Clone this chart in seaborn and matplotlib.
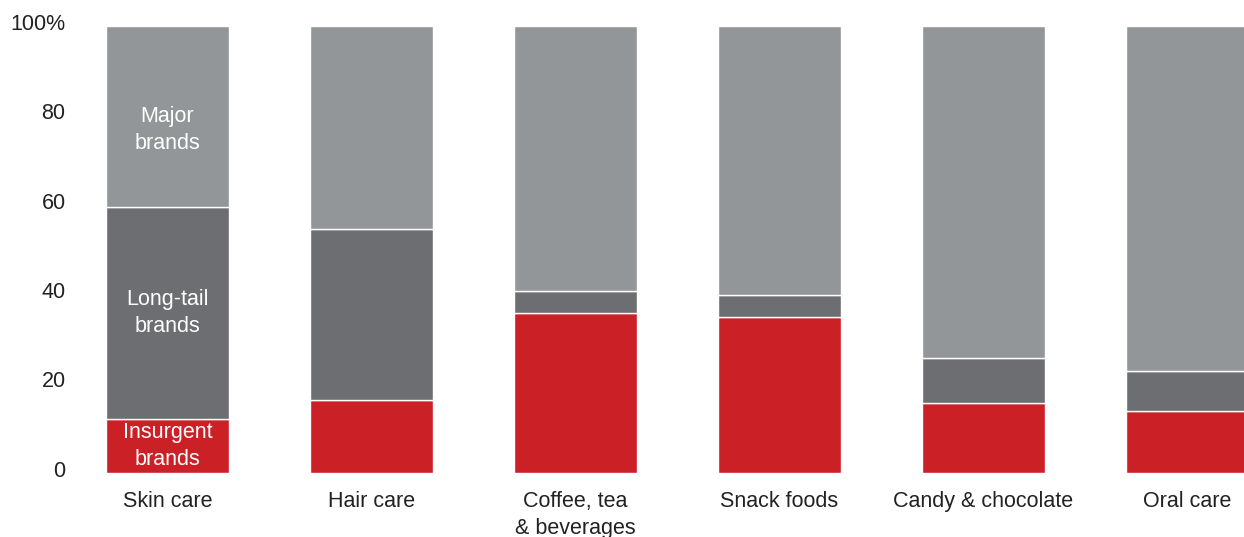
import matplotlib
matplotlib.use("Agg")
import matplotlib.pyplot as plt
import matplotlib.transforms as mtransforms
import seaborn as sns
import pandas as pd
import numpy as np

categories = ["Skin care", "Hair care", "Coffee, tea\n& beverages", "Snack foods",
              "Candy & chocolate", "Oral care"]
insurgent = [12.0, 16.3, 35.8, 34.8, 15.7, 13.8]
long_tail = [47.5, 38.2, 5.0, 5.0, 10.1, 9.0]
major = [100 - a - b for a, b in zip(insurgent, long_tail)]
y_ticks = [0, 20, 40, 60, 80, 100]
y_tick_labels = ["0", "20", "40", "60", "80", "100%"]

sns.set_theme(style="white")
plt.rcParams["font.family"] = ["Liberation Sans", "DejaVu Sans"]

fig = plt.figure(figsize=(12.44, 5.37), dpi=100)
ax = fig.add_axes([0.0527, 0.1192, 0.951, 0.8324])

df = pd.DataFrame({"cat": categories, "ins": insurgent, "lt": long_tail, "maj": major})
df["lt_bottom"] = df["ins"]
df["maj_bottom"] = df["ins"] + df["lt"]

red = "#cc2027"
dark = "#6d6e71"
light = "#939699"

sns.barplot(data=df, x="cat", y="ins", color=red, width=0.6, saturation=1,
            edgecolor="white", linewidth=1, ax=ax)
sns.barplot(data=df, x="cat", y="lt", bottom=df["lt_bottom"].values, color=dark, width=0.6,
            saturation=1, edgecolor="white", linewidth=1, ax=ax)
sns.barplot(data=df, x="cat", y="maj", bottom=df["maj_bottom"].values, color=light, width=0.6,
            saturation=1, edgecolor="white", linewidth=1, ax=ax)

ax.set_xlim(-0.5, 5.3)
ax.set_ylim(0, 100)
ax.set_yticks(y_ticks)
ax.set_yticklabels(y_tick_labels)
ax.set_xlabel("")
ax.set_ylabel("")
for s in ax.spines.values():
    s.set_visible(False)
ax.tick_params(axis="y", length=0, pad=0, labelsize=15.5, labelcolor="#222222")
ax.tick_params(axis="x", length=0, pad=13, labelsize=15.5, labelcolor="#222222")
for lab in ax.get_xticklabels():
    lab.set_linespacing(1.35)
offset = mtransforms.ScaledTranslation(0, 3 / 72, fig.dpi_scale_trans)
for lab in ax.get_yticklabels():
    lab.set_transform(lab.get_transform() + offset)
ax.grid(False)

# in-bar segment labels for first bar
kw = dict(color="white", ha="center", va="center", fontsize=15.5, linespacing=1.4)
ax.text(0, 6.0, "Insurgent\nbrands", **kw)
ax.text(0, 35.8, "Long-tail\nbrands", **kw)
ax.text(0, 76.7, "Major\nbrands", **kw)

fig.savefig("out.png", dpi=100)
